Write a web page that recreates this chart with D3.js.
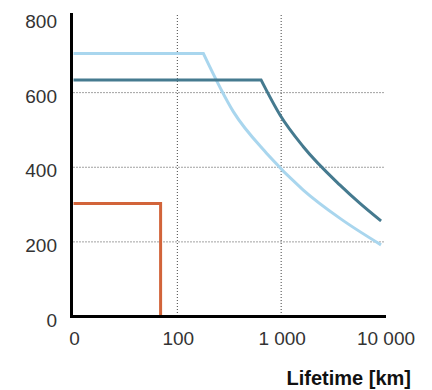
<!DOCTYPE html>
<html>
<head>
<meta charset="utf-8">
<script src="https://cdn.jsdelivr.net/npm/d3@7"></script>
<style>
  html, body { margin: 0; padding: 0; background: #fff; }
  svg { display: block; }
  .tick-label { font-family: "Liberation Sans", Arial, sans-serif; font-size: 19px; fill: #333; }
  .axis-title { font-family: "Liberation Sans", Arial, sans-serif; font-size: 20px; font-weight: bold; fill: #111; }
</style>
</head>
<body>
<svg id="chart" width="432" height="390"></svg>
<script>
// tick values and their labels
var xTicks = [10, 100, 1000, 10000],
    xTickLabels = ['0', '100', '1 000', '10 000'],
    yTicks = [0, 200, 400, 600, 800],
    xGrid = [100, 1000],
    yGrid = [200, 400, 600];

// series (km -> value)
var lightKm = [10, 178, 346, 726, 1633, 3690, 9160],
    lightVal = [705, 705, 549, 437, 339, 263, 192];

var tealKm = [10, 640, 975, 1633, 3690, 5745, 9160],
    tealVal = [634, 634, 540, 455, 352, 303, 256];

var orangeKm = [10, 69, 69],
    orangeVal = [303, 303, 0];

var svg = d3.select('#chart');

var x = d3.scaleLog()
    .domain([10, 10000])
    .range([73.5, 385]);

var y = d3.scaleLinear()
    .domain([0, 800])
    .range([316.5, 18]);

// dotted grid
svg.append('g')
    .selectAll('line')
    .data(xGrid)
  .enter().append('line')
    .attr('x1', function(d) { return x(d); })
    .attr('x2', function(d) { return x(d); })
    .attr('y1', 15)
    .attr('y2', y(0))
    .attr('stroke', '#444')
    .attr('stroke-width', 1)
    .attr('stroke-dasharray', '1,2');

svg.append('g')
    .selectAll('line')
    .data(yGrid)
  .enter().append('line')
    .attr('x1', x(10))
    .attr('x2', x(10000))
    .attr('y1', function(d) { return y(d); })
    .attr('y2', function(d) { return y(d); })
    .attr('stroke', '#444')
    .attr('stroke-width', 1)
    .attr('stroke-dasharray', '1,2');

// flat part straight, falling part smooth
function seriesPath(kms, vals, knee) {
    var pts = kms.map(function(k, i) { return [x(k), y(vals[i])]; });
    var flat = d3.line()(pts.slice(0, knee + 1)),
        fall = d3.line().curve(d3.curveMonotoneX)(pts.slice(knee));
    return flat + fall.replace(/^M/, 'L');
}

svg.append('path')
    .attr('d', seriesPath(lightKm, lightVal, 1))
    .attr('fill', 'none')
    .attr('stroke', '#a9d6ee')
    .attr('stroke-width', 3);

svg.append('path')
    .attr('d', seriesPath(tealKm, tealVal, 1))
    .attr('fill', 'none')
    .attr('stroke', '#457a8f')
    .attr('stroke-width', 3);

svg.append('path')
    .attr('d', d3.line()(orangeKm.map(function(k, i) { return [x(k), y(orangeVal[i])]; })))
    .attr('fill', 'none')
    .attr('stroke', '#d2643a')
    .attr('stroke-width', 3);

// axes lines
svg.append('line')
    .attr('x1', 71.5).attr('x2', 71.5)
    .attr('y1', 13).attr('y2', y(0) + 1.5)
    .attr('stroke', '#000').attr('stroke-width', 3);

svg.append('line')
    .attr('x1', 70).attr('x2', 386)
    .attr('y1', y(0)).attr('y2', y(0))
    .attr('stroke', '#000').attr('stroke-width', 3);

// tick labels
svg.append('g')
    .selectAll('text')
    .data(yTicks)
  .enter().append('text')
    .attr('class', 'tick-label')
    .attr('x', 57)
    .attr('y', function(d) { return y(d) + 3 + 7; })
    .attr('text-anchor', 'end')
    .text(function(d) { return d; });

svg.append('g')
    .selectAll('text')
    .data(xTicks)
  .enter().append('text')
    .attr('class', 'tick-label')
    .attr('x', function(d) { return x(d) + 1; })
    .attr('y', 345)
    .attr('text-anchor', 'middle')
    .text(function(d, i) { return xTickLabels[i]; });

svg.append('text')
    .attr('class', 'axis-title')
    .attr('x', 411)
    .attr('y', 385)
    .attr('text-anchor', 'end')
    .text('Lifetime [km]');
</script>
</body>
</html>
